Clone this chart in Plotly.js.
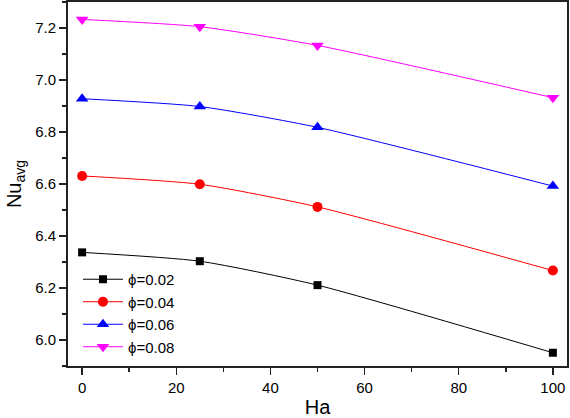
<!DOCTYPE html>
<html>
<head>
<meta charset="utf-8">
<script src="https://cdn.plot.ly/plotly-3.0.1.min.js"></script>
<style>html,body{margin:0;padding:0;background:#fff;}#chart{width:570px;height:418px;}</style>
</head>
<body>
<div id="chart"></div>
<script>
const ha = [0, 25, 50, 100];
const phi002 = [6.337, 6.303, 6.211, 5.951];
const phi004 = [6.631, 6.599, 6.512, 6.267];
const phi006 = [6.928, 6.898, 6.818, 6.592];
const phi008 = [7.233, 7.205, 7.133, 6.932];
const seriesNames = ['\u03d5=0.02', '\u03d5=0.04', '\u03d5=0.06', '\u03d5=0.08'];
const colors = ['#000000', '#ff0000', '#0000ff', '#ff00ff'];
const symbols = ['square', 'circle', 'triangle-up', 'triangle-down'];
const sizes = [8, 10, 11, 11];
const allY = [phi002, phi004, phi006, phi008];

const traces = allY.map((y, i) => ({
  x: ha, y: y, name: seriesNames[i], type: 'scatter', mode: 'lines+markers',
  line: {color: colors[i], width: 1, shape: 'spline', smoothing: 0.6},
  marker: {color: colors[i], symbol: symbols[i], size: sizes[i]}
}));

const axisCommon = {
  showgrid: false, zeroline: false, showline: true, linecolor: '#222', linewidth: 2,
  mirror: true, ticks: 'outside', ticklen: 7, tickwidth: 1.5, tickcolor: '#222',
  tickfont: {family: 'Liberation Sans, Arial, sans-serif', size: 15, color: '#000'}
};

const layout = {
  width: 570, height: 418,
  margin: {l: 68, r: 3, t: 2, b: 52},
  paper_bgcolor: '#fff', plot_bgcolor: '#fff',
  showlegend: true,
  legend: {x: 0.02, y: 0.283, xanchor: 'left', yanchor: 'top', bgcolor: 'rgba(0,0,0,0)',
    font: {family: 'Liberation Sans, Arial, sans-serif', size: 15, color: '#000'},
    tracegroupgap: 0, itemwidth: 40},
  xaxis: Object.assign({}, axisCommon, {
    range: [-3, 103], tickvals: [0, 20, 40, 60, 80, 100],
    minor: {tickvals: [10, 30, 50, 70, 90], ticks: 'outside', ticklen: 4, tickwidth: 1.5, tickcolor: '#222'},
    title: {text: 'Ha', standoff: 5, font: {family: 'Liberation Sans, Arial, sans-serif', size: 20, color: '#000'}}
  }),
  yaxis: Object.assign({}, axisCommon, {
    range: [5.9, 7.3], tickvals: [6.0, 6.2, 6.4, 6.6, 6.8, 7.0, 7.2], tickformat: '.1f',
    minor: {tickvals: [5.9, 6.1, 6.3, 6.5, 6.7, 6.9, 7.1, 7.3], ticks: 'outside', ticklen: 4, tickwidth: 1.5, tickcolor: '#222'},
    title: {text: 'Nu<sub>avg</sub>', standoff: 8, font: {family: 'Liberation Sans, Arial, sans-serif', size: 20, color: '#000'}}
  })
};

Plotly.newPlot('chart', traces, layout, {displayModeBar: false, staticPlot: true});
</script>
</body>
</html>
